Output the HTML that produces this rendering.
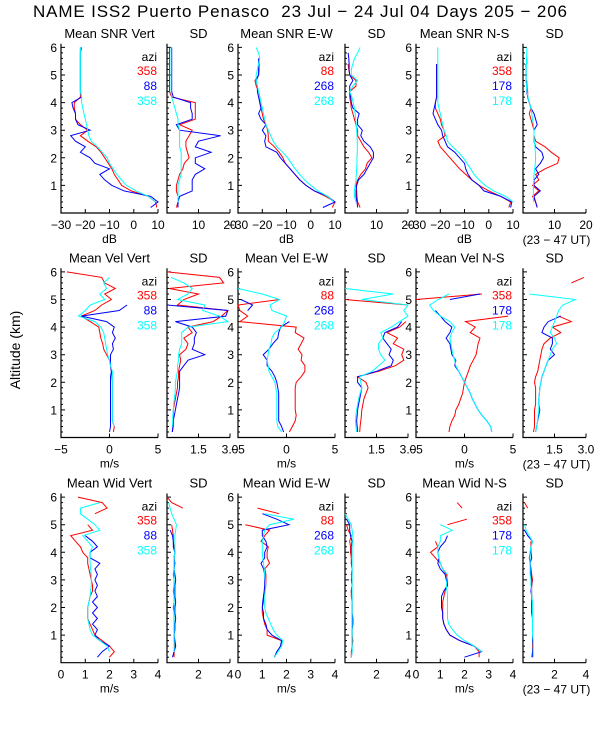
<!DOCTYPE html>
<html><head><meta charset="utf-8"><style>
html,body{margin:0;padding:0;background:#fff;}
svg{display:block;font-family:"Liberation Sans",sans-serif;}
</style></head><body>
<svg id="chart" xmlns="http://www.w3.org/2000/svg" width="600" height="750" viewBox="0 0 600 750">
<rect width="600" height="750" fill="#fff"/>
<text x="33" y="17" font-size="17" textLength="534" lengthAdjust="spacing" fill="#000" xml:space="preserve">NAME ISS2 Puerto Penasco  23 Jul − 24 Jul 04 Days 205 − 206</text>
<text x="20" y="350" font-size="14" text-anchor="middle" transform="rotate(-90 20 350)" fill="#000">Altitude (km)</text>
<g id="plots"></g>
</svg>
<script>
// Altitude grid (km)
const ALT = [0.2,0.4,0.6,0.8,1.0,1.2,1.4,1.6,1.8,2.0,2.2,2.4,2.6,2.8,3.0,3.2,3.4,3.6,3.8,4.0,4.2,4.4,4.6,4.8,5.0,5.2,5.4,5.6,5.8,6.0];
const N = null;
// Row 1: SNR (dB)
const snrVertRed  = [9.5,9,6,-1,-5,-6.5,-8,-9,-10.5,-12,-13.5,-15.5,-19,-22,-19,-22,-24,-24,-24.5,-24.5,-22,-22,-22,-22,-22,-22,-22,-22,-22,-21.5];
const snrVertBlue = [7,10,7,-4,-9,-12,-14,-10,-16,-18,-22,-20,-24,-26,-18,-23,-24,-24,-25,-25.5,-21.5,-22,-22,-22,-22,-22,-22,-22,-22,-22];
const snrVertCyan = [N,9,6,1,-3,-5,-7,-8.5,-10,-11,-13,-15,-17.5,-18.5,-19,-19.5,-20,-20.5,-21,-21.5,-21.5,-22,-22,-22,-22,-22,-22,-22,-22,-22];
const sdVertRed   = [3,3.5,3.5,3,3,3.5,4,5,5.5,7,6.5,6,6,7,8,4,9,9,9,9,1.5,0.8,0.8,0.8,0.8,0.8,0.8,0.8,0.8,0.8];
const sdVertBlue  = [3.5,3.5,4,8,8,8,9,12,9,9,14,9,10,17,4,3,8,8,7.5,7.5,2,1.5,1.5,1.5,1.5,1.5,1.5,1.5,1.5,1.5];
const sdVertCyan  = [N,3.5,3.5,3.5,3.5,4,4.5,4.5,4.5,4.5,4.5,4,4,4,4,3.5,3.5,3,2.5,2,1.5,1.3,1.3,1.3,1.3,1.3,1.3,1.3,1.3,1.3];
const snrEWRed    = [8.9,10,6.2,1.5,-2,-4.5,-6.5,-8.5,-10.5,-11.5,-13,-15,-17.5,-17.5,-17.8,-18.5,-19.5,-20,-20.5,-21,-21,-21.5,-22.5,-23,-21.5,-21.3,-21.3,-21.3,N,N];
const snrEWBlue   = [5,10,7,1.5,-2,-4.5,-6.5,-8.5,-10.5,-12.5,-14,-18.5,-19,-18.5,-20,-18.5,-20.5,-21.5,-20.5,-21,-21.5,-22,-22,-22.5,-21.5,-21.5,-21.5,-21.5,N,N];
const snrEWCyan   = [N,9.5,7,3,0,-2.5,-4.5,-6.5,-8,-9.5,-11.5,-14,-15.5,-16.5,-17.5,-18.5,-19,-19.5,-20,-20.5,-21,-21.5,-22,-22.5,-22.5,-22,-21.5,-21,-21.5,-22.5];
const sdEWRed     = [4.8,4,3.8,3.7,3.5,4,5,6.5,7,8.5,7.5,6,5,4,4,3.5,3,2.5,2,1.8,1.5,1.5,3.5,3.5,1.5,1.2,1,N,N,N];
const sdEWBlue    = [4,3.8,3.5,3.5,3.7,4.3,6,7,8,9,9,8,6,5,5.5,4,4,4.5,2.5,2,1.8,1.5,1.5,2.5,1.5,1.3,1.3,1.2,1,N];
const sdEWCyan    = [N,3.5,3,3,3.2,3.5,3.6,3.7,3.8,3.8,3.9,3.9,3.9,3.8,3.7,3.6,3.4,3.2,3,2.6,2.2,1.5,2.5,4,2,2,2.5,3,4,4.8];
const snrNSRed    = [8.3,9,5,0,-4,-7,-9.5,-12,-14,-16,-18,-20,-21,-18,-18.5,-19.5,-20,-21,-22,-22,-21.5,-21.5,-21.5,-21.5,-21.5,-21.5,-21.5,N,N,N];
const snrNSBlue   = [9,9.5,5,-2,-4,-7,-8.5,-9.5,-10,-12,-14,-17,-18,-19,-19.5,-21,-22,-23,-22.5,-22,-21.5,-21.5,-21.5,-21.5,-21.5,-21.5,-21.5,N,N,N];
const snrNSCyan   = [N,10,7,2,-1.5,-4,-6,-7.5,-9,-10.5,-12.5,-15,-17,-17.5,-18.5,-19,-19.5,-20,-20.5,-21,-21,-21,-21,-21,-21,-21,-21,-21,-21,-21];
const sdNSRed     = [4.5,4,3,5,3,5,4,7,11,11.5,9,7,4,3.5,3.5,3,2.5,2,2.5,2,1.5,1.5,1.2,1.2,N,N,1.2,1.2,N,N];
const sdNSBlue    = [4.5,4,3.5,5.5,3.5,3.5,5,4,5.5,6.5,6,4,3.5,3.5,3.5,4.5,4,3.5,2.5,2,1.5,1.2,1.2,1,1,1,1,N,N,N];
const sdNSCyan    = [N,3.3,3.3,3.3,3.3,3.4,3.5,3.7,3.9,4,3.9,3.8,3.6,3.5,3.5,3.3,3,2.8,2.5,2,1.6,1.3,1.1,1,1,1,1.1,1.1,1.2,1.2];
// Row 2: velocity (m/s)
const velVertRed  = [0.4,0.5,0.3,0.3,0.3,0.3,0.3,0.3,0.3,0.3,0.25,0.2,0.1,0,-0.3,-0.6,-0.7,-0.9,-1,-1.1,-2,-2.9,-1.5,-0.8,0.2,-0.5,0.6,-0.5,-0.8,-4.4];
const velVertBlue = [0,0.1,0.1,0.1,0.1,0.1,0.1,0.1,0.1,0.1,0.1,0.2,0.1,0.1,0.1,0.4,0.3,0.6,0.3,0.5,-0.3,-2.9,1,1.8,N,N,N,N,N,N];
const velVertCyan = [N,0.5,0.3,0.3,0.3,0.3,0.3,0.3,0.3,0.3,0.3,0.3,0.1,0,-0.2,-0.3,-0.4,-0.5,-0.6,-0.9,-1.5,-3.2,-2.5,-2,-0.5,-1,-0.3,-0.6,0,N];
const sdVVRed     = [0.25,0.3,0.3,0.3,0.3,0.35,0.4,0.45,0.5,0.5,0.55,0.55,0.6,0.65,0.6,0.9,1,0.8,1.2,1,2.2,2.6,2.9,0.5,0.8,1.5,0.1,2.7,2.5,0];
const sdVVBlue    = [0.25,0.28,0.3,0.35,0.4,0.45,0.5,0.55,0.6,0.6,0.6,0.6,0.8,1,1.8,1.2,1.3,1.3,1.4,1.2,0.4,2.8,2.9,0,N,N,N,N,N,N];
const sdVVCyan    = [N,0.25,0.27,0.28,0.3,0.32,0.35,0.38,0.4,0.4,0.45,0.5,0.5,0.55,0.55,0.6,0.7,0.7,0.7,1,2.9,2.5,1.7,1.8,0.5,1,1.2,0.8,0.2,N];
const velEWRed    = [0.3,0.6,0.9,1,0.9,0.9,0.9,0.9,0.9,1,1.5,1.9,1.9,1.5,1.6,1.2,1.5,1.8,0.9,1,-4.8,-4,-4.8,-5,-0.7,N,N,N,N,N];
const velEWBlue   = [-0.3,-0.5,-0.8,-0.8,-0.8,-0.8,-0.8,-0.8,-0.9,-1,-1.2,-1.5,-2,-2,-2.4,-1.8,-1.4,-0.9,-0.8,-0.6,0.3,N,-4,-3.5,-4.7,N,N,N,N,N];
const velEWCyan   = [-0.5,-0.9,-1,-1,-1,-1,-1,-1,-1.1,-1.2,-1.5,-1.8,-1.9,-2,-1.9,-1.8,-1.6,-1.5,-1.2,-0.5,-0.2,0,-1.5,-1.7,-0.7,-2.5,-5,N,N,N];
const sdEWVRed    = [0.7,0.72,0.75,0.78,0.8,0.85,0.9,1,1.1,1,0.6,1.6,2.4,2.8,2.7,2.8,2.3,2.5,2,2.6,2.9,N,N,3,0,N,N,N,N,N];
const sdEWVBlue   = [0.6,0.58,0.55,0.58,0.6,0.65,0.7,0.75,0.8,0.6,0.6,1.5,2.2,2.3,2.1,2.2,2,1.8,1.9,2.5,2.7,N,N,N,0,N,N,N,N,N];
const sdEWVCyan   = [0.55,0.52,0.5,0.52,0.55,0.6,0.65,0.72,0.8,0.75,0.7,1.3,1.6,1.9,1.7,1.6,1.6,1.8,1.7,2.2,2.6,3,2.8,3,0.8,2.3,0,N,N,N];
const velNSRed    = [-1.6,-1.5,-1.3,-1,-0.9,-0.6,-0.4,-0.2,-0.1,0,0.2,0.4,0.6,0.9,1.2,1.3,1.4,1.6,0.6,1.1,0.1,4.5,N,N,-5,1.8,N,N,N,N];
const velNSBlue   = [2.8,2.7,2.3,1.8,1.4,1.1,0.8,0.6,0.3,0,-0.3,-0.6,-1,-0.9,-1.3,-1.4,-1.5,-1.9,-1.5,-1.3,-2,-2.5,-3,N,-1.5,1.6,N,N,N,N];
const velNSCyan   = [2.8,2.7,2.3,1.8,1.4,1.1,0.8,0.6,0.3,0,-0.3,-0.6,-0.9,-1,-1.2,-1.3,-1.4,-1.5,-1.3,-1,-1.5,-2.5,-3.2,-3.6,-2.7,-1.6,N,N,N,N];
const sdNSVRed    = [0.5,0.55,0.55,0.55,0.55,0.6,0.6,0.6,0.6,0.55,0.6,0.7,0.75,0.8,0.85,0.9,1,1.3,1.8,1.4,2.3,1.7,N,N,N,N,N,2.3,2.9,N];
const sdNSVBlue   = [0.6,0.65,0.7,0.75,0.8,0.75,0.75,0.78,0.8,0.85,0.9,1,1.1,1.2,1.5,1.3,1.4,1.4,0.9,1,1.2,1.8,N,N,N,N,N,N,N,N];
const sdNSVCyan   = [0.6,0.65,0.7,0.72,0.75,0.75,0.75,0.78,0.8,0.85,0.9,1,1.1,1.2,1.3,1.4,1.6,1.5,1.3,1.4,1.5,1.6,1.7,1.9,2.5,0.3,N,N,N,N];
// Row 3: spectral width (m/s)
const widVertRed  = [2,2.2,2,1.7,1.4,1.3,1.2,1.1,1.1,1.1,1.15,1.2,1.3,1.3,1.25,1.2,1.15,1.1,1.1,0.9,0.8,0.6,0.4,1.3,1.1,N,1.4,1.9,1.7,0.7];
const widVertBlue = [1.5,1.7,2,1.6,1.4,1.5,1.3,1.5,1.3,1.5,1.3,1.5,1.4,1.5,1.4,1.5,1.4,1.6,1.2,1.2,1.5,1.3,1,N,N,N,N,N,N,N];
const widVertCyan = [N,2,1.9,1.6,1.3,1.2,1.15,1.1,1.1,1.1,1.15,1.2,1.22,1.25,1.25,1.25,1.22,1.2,1.2,1.2,1.3,1.1,0.9,1.6,1.4,1.1,0.8,0.8,1.6,N];
const sdWVRed     = [0.45,0.45,0.5,0.45,0.45,0.45,0.45,0.45,0.45,0.4,0.45,0.45,0.4,0.45,0.45,0.4,0.45,0.45,0.45,0.5,0.45,0.4,0.4,0.35,0.3,N,N,1,0.3,0];
const sdWVBlue    = [0.35,0.45,0.55,0.5,0.45,0.5,0.5,0.55,0.5,0.5,0.55,0.5,0.5,0.5,0.55,0.5,0.45,0.5,0.45,0.5,0.4,0.4,0.35,0.2,N,N,N,N,N,N];
const sdWVCyan    = [N,0.45,0.45,0.45,0.45,0.45,0.45,0.45,0.45,0.45,0.45,0.45,0.45,0.45,0.45,0.45,0.45,0.45,0.45,0.5,0.5,0.5,0.5,0.55,0.6,0.45,0.3,0.2,0.1,N];
const widEWRed    = [1.5,1.6,1.8,1.8,1.2,1.2,1.1,1.05,1,1,1.05,1.05,1.1,1.15,1.15,1.15,1.1,1.3,1.2,1.2,1.25,0.95,1.1,1.3,0.3,N,1.7,0.8,N,N];
const widEWBlue   = [1.5,1.6,1.75,1.8,1.4,1.2,1.15,1.05,1.05,1,1.02,1.05,1.08,1.1,1.1,1.1,1.05,0.95,1.1,1.1,1.2,1.15,1,1,2.1,1.6,1,N,N,N];
const widEWCyan   = [1.5,1.65,1.8,1.85,1.6,1.45,1.35,1.25,1.15,1.1,1.1,1.1,1.12,1.15,1.12,1.1,1.08,1.05,1.02,1,1,1,1.05,1.1,1.3,2.3,1.1,N,N,N];
const sdWERed     = [0.4,0.4,0.45,0.5,0.45,0.45,0.45,0.45,0.45,0.45,0.45,0.4,0.4,0.45,0.45,0.4,0.45,0.4,0.4,0.35,0.35,0.3,0.4,0.2,0.1,N,N,N,N,N];
const sdWEBlue    = [0.4,0.45,0.45,0.45,0.45,0.45,0.5,0.5,0.45,0.45,0.45,0.45,0.4,0.45,0.4,0.45,0.45,0.4,0.45,0.4,0.4,0.45,0.35,0.3,0.3,0.1,N,N,N,N];
const sdWECyan    = [0.4,0.45,0.45,0.45,0.45,0.45,0.45,0.45,0.45,0.45,0.45,0.45,0.45,0.45,0.45,0.45,0.45,0.45,0.45,0.45,0.45,0.5,0.5,0.45,0.4,0.2,0,N,N,N];
const widNSRed    = [2.6,2.6,2.4,1.8,1.4,1.25,1.15,1.1,1.1,1.1,1.1,1.15,1.2,1.3,1.3,1.25,1.1,1,0.8,0.6,0.9,0.8,N,N,1.3,2.1,N,1.9,1.7,N];
const widNSBlue   = [2,2.7,2.4,1.8,1.4,1.25,1.15,1.1,1.1,1.05,1.05,1.05,1.15,1.3,1.25,1.2,1,0.9,0.95,0.9,1,1.2,1.3,N,N,N,N,N,N,N];
const widNSCyan   = [N,2.7,2.4,2,1.7,1.5,1.35,1.3,1.3,1.3,1.3,1.3,1.28,1.25,1.28,1.3,1.1,1,0.95,0.9,0.9,1,1,1.5,1,N,N,N,N,N];
const sdWNRed     = [0.55,0.6,0.6,0.6,0.6,0.6,0.6,0.6,0.6,0.6,0.6,0.55,0.55,0.55,0.6,0.55,0.5,0.45,0.4,0.45,0.5,0.5,N,N,N,N,N,0.3,0.1,N];
const sdWNBlue    = [0.6,0.6,0.65,0.6,0.6,0.6,0.6,0.6,0.55,0.55,0.55,0.55,0.5,0.55,0.55,0.5,0.5,0.45,0.55,0.5,0.5,0.6,0.3,0.1,N,N,N,N,N,N];
const sdWNCyan    = [0.65,0.65,0.65,0.65,0.6,0.6,0.6,0.6,0.6,0.6,0.6,0.55,0.55,0.5,0.5,0.45,0.45,0.45,0.45,0.45,0.5,0.6,0.4,0.2,0.1,N,N,N,N,N];
// Legend azimuths
const aziVert = ["358","88","358"];
const aziEW = ["88","268","268"];
const aziNS = ["358","178","178"];
// Tick labels per axis type
const snrTicks = [-30,-20,-10,0,10];
const snrLabels = ["−30","−20","−10","0","10"];
const sdSnrTicks = [0,10,20];
const sdSnrLabels = ["","10","20"];
const velTicks = [-5,0,5];
const velLabels = ["−5","0","5"];
const sdVelTicks = [0,1.5,3];
const sdVelLabels = ["","1.5","3.0"];
const widTicks = [0,1,2,3,4];
const widLabels = ["0","1","2","3","4"];
const sdWidTicks = [0,2,4];
const sdWidLabels = ["","2","4"];
const altTicks = [1,2,3,4,5,6];

const COLORS = ["#ff0000","#0000ff","#00ffff"];
const SVGNS = "http://www.w3.org/2000/svg";
const root = document.getElementById("plots");
const MAINX = [61,238,416], SDX = [167,345,523];
const MAINW = 97, SDW = 63;
const ROWBOT = [213,437.5,662.7], KM = 27.6, YTOP = 6.13;

function mk(tag, attrs, parent){
  const e = document.createElementNS(SVGNS, tag);
  for (const k in attrs) e.setAttribute(k, attrs[k]);
  (parent||root).appendChild(e);
  return e;
}
function txt(s, x, y, size, anchor, fill, name){
  const t = mk("text", {x:x, y:y, "font-size":size, "text-anchor":anchor, fill:fill||"#000"});
  
  
  t.textContent = s;
  return t;
}
function panel(opt){
  const g = mk("g", {});
  
  
  const x0 = opt.x, w = opt.w, ybot = ROWBOT[opt.row];
  const ytop = ybot - YTOP*KM;
  const sx = v => x0 + (v - opt.min)/(opt.max - opt.min)*w;
  const sy = a => ybot - a*KM;
  const ax = mk("path", {d:`M${x0} ${ytop}V${ybot}H${x0+w}`, stroke:"#000", "stroke-width":1.2, fill:"none"}, g);
  
  
  let d = "";
  for (let i = 1; i <= 30; i++) {
    const a = i*0.2, y = sy(a).toFixed(1);
    const major = Math.abs(a - Math.round(a)) < 1e-6;
    d += `M${x0} ${y}h${major?4:2}`;
  }
  opt.ticks.forEach(t => { d += `M${sx(t).toFixed(1)} ${ybot}v-4`; });
  const tk = mk("path", {d:d, stroke:"#000", "stroke-width":1, fill:"none"}, g);
  
  
  if (opt.ylabels) {
    altTicks.forEach(a => { g.appendChild(txt(String(a), x0-4, sy(a)+4.5, 12, "end", "#000", "y-tick-label")); });
  }
  opt.ticks.forEach((t,i) => {
    if (opt.labels[i]) g.appendChild(txt(opt.labels[i], sx(t), ybot+16, 12, "middle", "#000", "x-tick-label"));
  });
  g.appendChild(txt(opt.title, x0 + w/2, ytop - 6, 13, "middle", "#000", "panel-title"));
  if (opt.unit) g.appendChild(txt(opt.unit, x0 + w/2, ybot+30, 12, "middle", "#000", "x-axis-title"));
  if (opt.ut) g.appendChild(txt("(23 − 47 UT)", x0 + w/2 + 2, ybot+31, 12, "middle", "#000", "time-range-note"));
  opt.series.forEach((s, si) => {
    let path = "", pen = false;
    for (let i = 0; i < ALT.length; i++) {
      const v = s[i];
      if (v === null) { pen = false; continue; }
      const vc = Math.max(opt.min, Math.min(opt.max, v));
      path += (pen ? "L" : "M") + sx(vc).toFixed(1) + " " + sy(ALT[i]).toFixed(1);
      pen = true;
    }
    const p = mk("path", {d:path, stroke:COLORS[si], "stroke-width":1, fill:"none"}, g);
    
    
  });
  if (opt.azi) {
    const lx = x0 + w - 1, by = ytop;
    g.appendChild(txt("azi", lx, by+17, 12, "end", "#000", "legend-title"));
    opt.azi.forEach((a, i) => { g.appendChild(txt(a, lx, by+31+i*15, 12, "end", COLORS[i], "legend-entry")); });
  }
}
const rows = [
  {titles:["Mean SNR Vert","Mean SNR E-W","Mean SNR N-S"], unit:"dB", min:-30, max:10, ticks:snrTicks, labels:snrLabels,
   sdmin:0, sdmax:20, sdticks:sdSnrTicks, sdlabels:sdSnrLabels,
   main:[[snrVertRed,snrVertBlue,snrVertCyan],[snrEWRed,snrEWBlue,snrEWCyan],[snrNSRed,snrNSBlue,snrNSCyan]],
   sd:[[sdVertRed,sdVertBlue,sdVertCyan],[sdEWRed,sdEWBlue,sdEWCyan],[sdNSRed,sdNSBlue,sdNSCyan]], key:"snr"},
  {titles:["Mean Vel Vert","Mean Vel E-W","Mean Vel N-S"], unit:"m/s", min:-5, max:5, ticks:velTicks, labels:velLabels,
   sdmin:0, sdmax:3, sdticks:sdVelTicks, sdlabels:sdVelLabels,
   main:[[velVertRed,velVertBlue,velVertCyan],[velEWRed,velEWBlue,velEWCyan],[velNSRed,velNSBlue,velNSCyan]],
   sd:[[sdVVRed,sdVVBlue,sdVVCyan],[sdEWVRed,sdEWVBlue,sdEWVCyan],[sdNSVRed,sdNSVBlue,sdNSVCyan]], key:"vel"},
  {titles:["Mean Wid Vert","Mean Wid E-W","Mean Wid N-S"], unit:"m/s", min:0, max:4, ticks:widTicks, labels:widLabels,
   sdmin:0, sdmax:4, sdticks:sdWidTicks, sdlabels:sdWidLabels,
   main:[[widVertRed,widVertBlue,widVertCyan],[widEWRed,widEWBlue,widEWCyan],[widNSRed,widNSBlue,widNSCyan]],
   sd:[[sdWVRed,sdWVBlue,sdWVCyan],[sdWERed,sdWEBlue,sdWECyan],[sdWNRed,sdWNBlue,sdWNCyan]], key:"wid"}
];
const azis = [aziVert, aziEW, aziNS];
const dirs = ["vert","ew","ns"];
rows.forEach((r, ri) => {
  for (let c = 0; c < 3; c++) {
    panel({name:`${r.key}-${dirs[c]}-panel`, row:ri, x:MAINX[c], w:MAINW, min:r.min, max:r.max, ticks:r.ticks, labels:r.labels,
      title:r.titles[c], unit:r.unit, series:r.main[c], azi:azis[c], ylabels:true});
    panel({name:`${r.key}-${dirs[c]}-sd-panel`, row:ri, x:SDX[c], w:SDW, min:r.sdmin, max:r.sdmax, ticks:r.sdticks, labels:r.sdlabels,
      title:"SD", series:r.sd[c], ylabels:false, ut:(c===2)});
  }
});
</script>
</body></html>
